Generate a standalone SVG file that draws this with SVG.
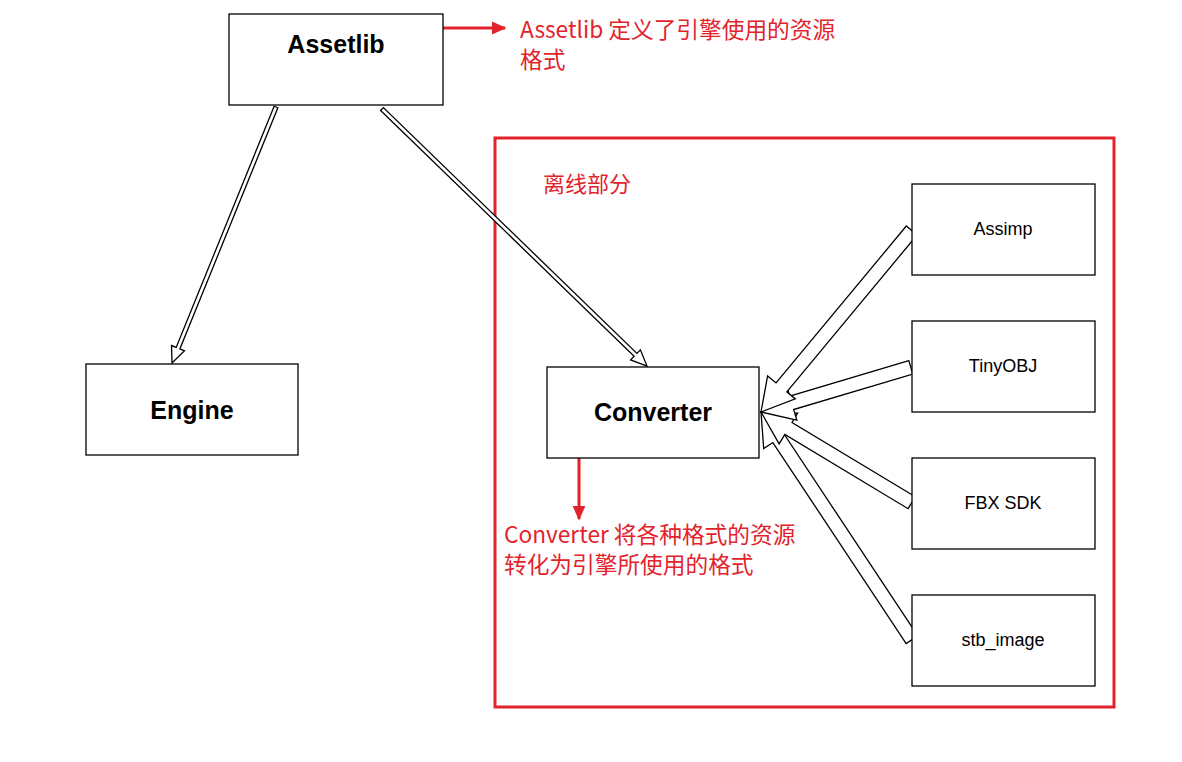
<svg xmlns="http://www.w3.org/2000/svg" width="1182" height="762" viewBox="0 0 1182 762">
<style>
.box{fill:#fff;stroke:#000;stroke-width:1.3}
.big{font-family:"Liberation Sans",Arial,sans-serif;font-weight:bold;font-size:25px;text-anchor:middle}
.small{font-family:"Liberation Sans",Arial,sans-serif;font-size:18px;text-anchor:middle}
.note{font-family:"Noto Sans CJK SC","Noto Sans",sans-serif;font-size:22.7px;fill:#e3232c}
.blk{fill:#fff;stroke:#000;stroke-width:1.3;stroke-linejoin:miter}
.red{stroke:#e3232c;stroke-width:3;fill:none}
</style>
<defs>
<marker id="rh" markerWidth="5" markerHeight="4.4" refX="4.5" refY="2.2" orient="auto" markerUnits="strokeWidth">
<path d="M0,0 L5,2.2 L0,4.4 Z" fill="#e3232c"/>
</marker>
</defs>
<rect width="1182" height="762" fill="#fff"/>
<rect x="495" y="138" width="619" height="569" fill="none" stroke="#e3232c" stroke-width="3"/>
<text class="note" x="543" y="192" style="font-size:22px">离线部分</text>
<g id="connectors">
<polygon class="blk" points="274.15,106.25 176.17,347.43 171.53,345.55 172,363 184.51,350.82 179.87,348.93 277.85,107.75"/>
<polygon class="blk" points="380.61,110.44 634.13,356.3 630.65,359.89 647,366 640.39,349.84 636.91,353.42 383.39,107.56"/>
<polygon class="blk" points="917.83,635.83 784.52,434.8 793.69,428.72 761,412 763.69,448.62 772.86,442.54 906.17,643.57"/>
<polygon class="blk" points="915.31,496.7 792.02,422.5 797.69,413.08 761,412 779.13,443.92 784.8,434.5 908.09,508.7"/>
<polygon class="blk" points="908.8,360.59 789.67,396.14 786.52,385.6 761,412 796.82,420.1 793.67,409.56 912.8,374.01"/>
<polygon class="blk" points="906.31,226.03 776.05,382.91 767.59,375.88 761,412 795.29,398.88 786.83,391.85 917.09,234.97"/>
<line class="red" x1="443" y1="28" x2="505" y2="28" marker-end="url(#rh)"/>
<line class="red" x1="579" y1="458" x2="579" y2="519" marker-end="url(#rh)"/>
</g>
<g id="assetlib"><rect class="box" x="229" y="14" width="214" height="91"/><text class="big" x="336" y="53">Assetlib</text></g>
<g id="engine"><rect class="box" x="86" y="364" width="212" height="91"/><text class="big" x="192" y="419">Engine</text></g>
<g id="converter"><rect class="box" x="547" y="367" width="212" height="91"/><text class="big" x="653" y="421">Converter</text></g>
<g id="assimp"><rect class="box" x="912" y="184" width="183" height="91"/><text class="small" x="1003" y="235">Assimp</text></g>
<g id="tinyobj"><rect class="box" x="912" y="321" width="183" height="91"/><text class="small" x="1003" y="372">TinyOBJ</text></g>
<g id="fbxsdk"><rect class="box" x="912" y="458" width="183" height="91"/><text class="small" x="1003" y="509">FBX SDK</text></g>
<g id="stbimage"><rect class="box" x="912" y="595" width="183" height="91"/><text class="small" x="1003" y="646">stb_image</text></g>
<g id="note-assetlib"><text class="note" x="520" y="38">Assetlib 定义了引擎使用的资源</text><text class="note" x="520" y="68">格式</text></g>
<g id="note-converter"><text class="note" x="504" y="543">Converter 将各种格式的资源</text><text class="note" x="504" y="573">转化为引擎所使用的格式</text></g>
</svg>
